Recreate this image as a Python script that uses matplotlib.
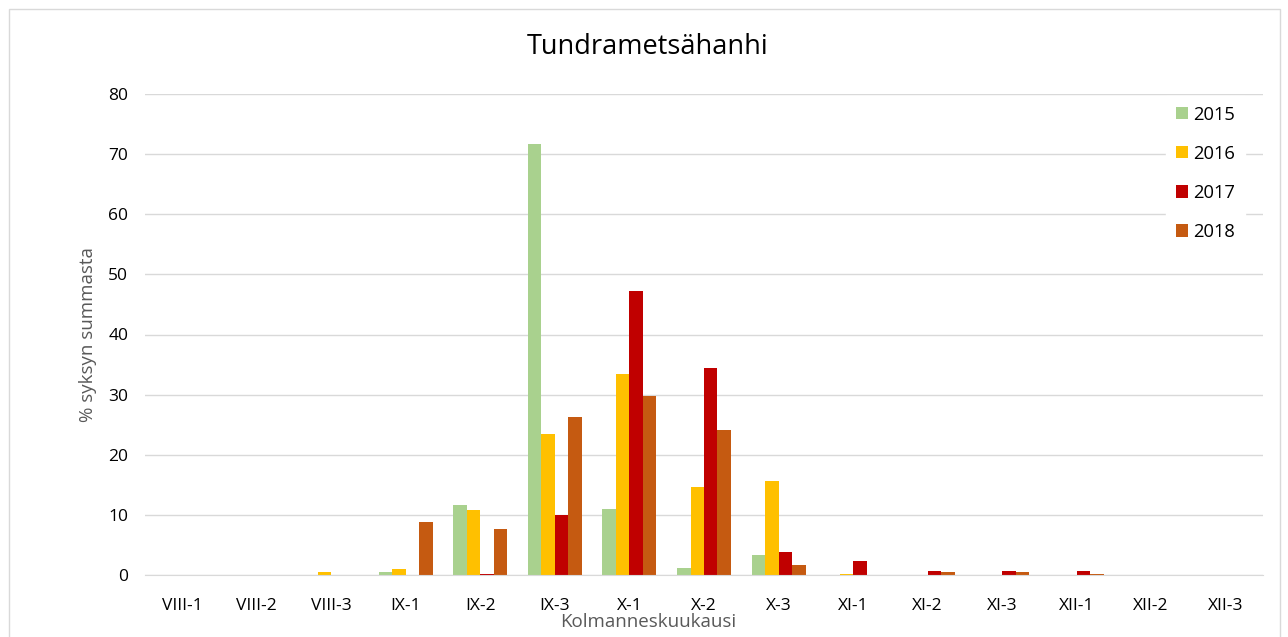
import matplotlib
matplotlib.use("Agg")
import matplotlib.pyplot as plt
import numpy as np
from matplotlib.patches import Rectangle

categories = ["VIII-1", "VIII-2", "VIII-3", "IX-1", "IX-2", "IX-3", "X-1", "X-2",
              "X-3", "XI-1", "XI-2", "XI-3", "XII-1", "XII-2", "XII-3"]
v2015 = [0, 0, 0, 0.5, 11.7, 71.7, 11.0, 1.2, 3.4, 0, 0, 0, 0, 0, 0]
v2016 = [0, 0, 0.5, 1.0, 10.8, 23.5, 33.4, 14.6, 15.6, 0.2, 0, 0, 0, 0, 0]
v2017 = [0, 0, 0, 0, 0.2, 10.0, 47.3, 34.4, 3.8, 2.3, 0.7, 0.7, 0.6, 0, 0]
v2018 = [0, 0, 0, 8.8, 7.6, 26.3, 29.8, 24.1, 1.7, 0, 0.45, 0.5, 0.2, 0, 0]
series = [("2015", v2015, "#A9D18E"), ("2016", v2016, "#FFC000"),
          ("2017", v2017, "#C00000"), ("2018", v2018, "#C55A11")]
yticks = [0, 10, 20, 30, 40, 50, 60, 70, 80]

plt.rcParams['font.family'] = ['Open Sans', 'DejaVu Sans']

fig = plt.figure(figsize=(12.88, 6.37), dpi=100)
fig.patches.append(Rectangle((9/1288, -0.01), 1271/1288, (637-9)/637 + 0.01,
                             transform=fig.transFigure, fill=False,
                             edgecolor="#d9d9d9", linewidth=1))
ax = fig.add_axes([145/1288, (637-575)/637, (1263-145)/1288, (575-94)/637])

x = np.arange(len(categories))
w = 0.181
for i, (name, vals, col) in enumerate(series):
    ax.bar(x + (i - 1.5) * w, vals, width=w, color=col, label=name, zorder=3)

ax.set_xlim(-0.5, len(categories) - 0.5)
ax.set_ylim(0, 80)
ax.set_yticks(yticks)
ax.set_xticks(x)
ax.set_xticklabels(categories)
ax.tick_params(axis='both', length=0, labelsize=12.5, colors="#000000")
ax.tick_params(axis='x', pad=16.5)
ax.tick_params(axis='y', pad=12)
ax.grid(axis='y', color="#d9d9d9", linewidth=1, zorder=0)
for s in ["left", "right", "top"]:
    ax.spines[s].set_visible(False)
ax.spines["bottom"].set_color("#d9d9d9")
ax.spines["bottom"].set_zorder(4)

fig.text(648/1288, 1 - 47/637, "Tundrametsähanhi", fontsize=19.5, color="#000000",
         ha="center", va="center")
fig.text(648/1288, 1 - 622/637, "Kolmanneskuukausi", fontsize=13.5, color="#595959",
         ha="center", va="center")
fig.text(88/1288, 1 - 335/637, "% syksyn summasta", fontsize=13.5, color="#595959",
         ha="center", va="center", rotation=90)

leg = ax.legend(loc="upper right", bbox_to_anchor=(0.989, 1.008), frameon=True,
                fancybox=False, edgecolor="white", framealpha=1,
                fontsize=13.2, labelspacing=1.15, handlelength=0.65,
                handleheight=0.65, handletextpad=0.3, borderpad=0.55,
                borderaxespad=0.3)

fig.savefig("out.png", dpi=100)
